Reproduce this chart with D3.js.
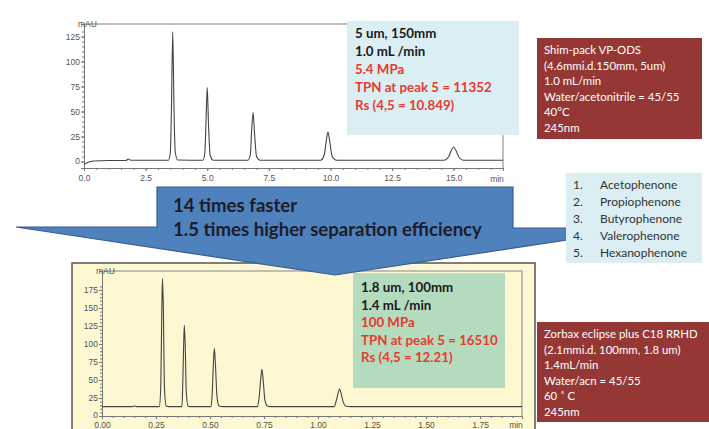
<!DOCTYPE html>
<html>
<head>
<meta charset="utf-8">
<script src="https://cdn.jsdelivr.net/npm/d3@7"></script>
<style>
  body { margin:0; background:#fff; }
  svg { display:block; font-family: Lato, "Open Sans", sans-serif; }
  .tick text { font-family: "Liberation Sans", Arial, sans-serif; font-size:8.5px; fill:#555; }
</style>
</head>
<body>
<svg id="canvas" width="709" height="429"></svg>
<script>
// chromatogram traces: [time (min), signal (mAU)]
var topTrace = [
  [0,-3],[0.15,-1],[0.4,0.5],[1.0,1],[1.7,1],[1.8,2.5],[1.9,1.2],
  [3.42,1.2],[3.5,8],[3.55,55],[3.6,130],[3.65,55],[3.7,10],[3.8,1.5],
  [4.82,1.2],[4.9,8],[4.95,40],[5.0,74],[5.05,38],[5.12,6],[5.25,1.2],
  [6.65,1.2],[6.75,7],[6.8,30],[6.86,49],[6.92,28],[7.0,5],[7.15,1.2],
  [9.6,1.2],[9.75,7],[9.83,21],[9.9,29.5],[9.97,20],[10.07,5],[10.25,1.2],
  [14.6,1.2],[14.8,5],[14.9,11],[15.0,14.5],[15.1,10.5],[15.22,4],[15.4,1.2],[17.0,1.2]
];
var bottomTrace = [
  [0,13],[0.14,13],[0.15,13.8],[0.16,13],
  [0.265,13],[0.272,40],[0.277,150],[0.28,191],[0.284,150],[0.289,40],[0.297,14],[0.31,13],
  [0.37,13],[0.373,35],[0.378,100],[0.381,126],[0.385,100],[0.39,35],[0.398,14],[0.41,13],
  [0.505,13],[0.51,30],[0.516,75],[0.52,94],[0.525,72],[0.532,28],[0.542,14],[0.56,13],
  [0.72,13],[0.727,25],[0.735,52],[0.74,65],[0.746,50],[0.754,22],[0.766,14],[0.78,13],
  [1.075,13],[1.085,22],[1.093,32],[1.1,37.5],[1.107,31],[1.116,20],[1.13,13.5],[1.15,13],[1.944,13]
];

var topXTicks = [0,2.5,5,7.5,10,12.5,15];
var topYTicks = [0,25,50,75,100,125];
var botXTicks = [0,0.25,0.5,0.75,1.0,1.25,1.5,1.75];
var botYTicks = [0,25,50,75,100,125,150,175];

var topInfo = [["5 um, 150mm","#1a1a1a"],["1.0 mL /min","#1a1a1a"],["5.4 MPa","#e63b2e"],
               ["TPN at peak 5 = 11352","#e63b2e"],["Rs (4,5 = 10.849)","#e63b2e"]];
var botInfo = [["1.8 um, 100mm","#1a1a1a"],["1.4 mL /min","#1a1a1a"],["100 MPa","#e63b2e"],
               ["TPN at peak 5 = 16510","#e63b2e"],["Rs (4,5 = 12.21)","#e63b2e"]];
var topColumn = ["Shim-pack VP-ODS","(4.6mmi.d.150mm, 5um)","1.0 mL/min",
                 "Water/acetonitrile = 45/55","40°C","245nm"];
var botColumn = ["Zorbax eclipse plus C18 RRHD","(2.1mmi.d. 100mm, 1.8 um)","1.4mL/min",
                 "Water/acn = 45/55","60 ˚ C","245nm"];
var compounds = ["Acetophenone","Propiophenone","Butyrophenone","Valerophenone","Hexanophenone"];
var arrowText = ["14 times faster","1.5 times higher separation efficiency"];

var svg = d3.select("#canvas");

function drawChart(g, x, y, trace, xt, yt, xFmt, xMinor, yMinor, yBase, pad){
  var x0 = x.range()[0], x1 = x.range()[1];
  var yTop = y.range()[1], yBot = yBase;
  // frame
  g.append("path")
    .attr("d","M"+x0+","+yTop+"H"+x1+"V"+yBot)
    .attr("fill","none").attr("stroke","#aaa").attr("stroke-width",1.5);
  // minor ticks
  g.append("g").attr("transform","translate(0,"+yBot+")")
    .call(d3.axisBottom(x).tickValues(d3.range(0, x.domain()[1]+1e-9, xMinor)).tickSize(2).tickFormat(""))
    .call(function(a){ a.select(".domain").remove(); a.selectAll("line").attr("stroke","#777"); });
  g.append("g").attr("transform","translate("+x0+",0)")
    .call(d3.axisLeft(y).tickValues(d3.range(yt[0], yt[yt.length-1]+10, yMinor)).tickSize(2).tickFormat(""))
    .call(function(a){ a.select(".domain").remove(); a.selectAll("line").attr("stroke","#777"); });
  // major axes
  g.append("g").attr("transform","translate(0,"+yBot+")")
    .call(d3.axisBottom(x).tickValues(xt).tickSize(3).tickPadding(pad).tickFormat(d3.format(xFmt)))
    .call(function(a){ a.select(".domain").attr("stroke","#777"); a.selectAll("line").attr("stroke","#777"); });
  g.append("g").attr("transform","translate("+x0+",0)")
    .call(d3.axisLeft(y).tickValues(yt).tickSize(3).tickPadding(1).tickFormat(d3.format("d")))
    .call(function(a){
      a.select(".domain").attr("stroke","#777"); a.selectAll("line").attr("stroke","#777");
      a.selectAll(".tick text").filter(function(d){ return d === 0; }).attr("dy","0.2em");
    });
  g.append("text").attr("x",x0-6).attr("y",yTop+3).text("mAU")
    .attr("font-family","Liberation Sans, Arial").attr("font-size",8.5).attr("fill","#555");
  g.append("text").attr("x",x1-6).attr("y",yBot+pad+9.5).text("min").attr("text-anchor","middle")
    .attr("font-family","Liberation Sans, Arial").attr("font-size",8.5).attr("fill","#555");
  // trace
  g.append("path").datum(trace)
    .attr("d", d3.line().x(function(d){return x(d[0]);}).y(function(d){return y(d[1]);}).curve(d3.curveMonotoneX))
    .attr("fill","none").attr("stroke","#444").attr("stroke-width",1.1);
}

function textBox(x0, y0, w, h, fill, lines, tx, ty, dy, size, weight, color){
  var g = svg.append("g");
  g.append("rect").attr("x",x0).attr("y",y0).attr("width",w).attr("height",h).attr("fill",fill);
  g.selectAll("text").data(lines).enter().append("text")
    .attr("x",tx).attr("y",function(d,i){return ty+i*dy;})
    .attr("font-size",size).attr("font-weight",weight)
    .attr("fill",function(d){ return color || d[1]; })
    .text(function(d){ return typeof d === "string" ? d : d[0]; });
  return g;
}

// ---- top chart
var xTop = d3.scaleLinear().domain([0,17]).range([84,503]);
var yTop = d3.scaleLinear().domain([-6.5,137.5]).range([168,24]);
drawChart(svg.append("g"), xTop, yTop, topTrace, topXTicks, topYTicks, ".1f", 0.5, 5, 168, 4);

textBox(347,21,172,114,"#dbeef4",topInfo,355,38,18,13.3,"bold");
textBox(537,38,165,101,"#953735",topColumn,544,54,15.6,11.4,"normal","#fff");

// ---- bottom panel
svg.append("rect").attr("x",72).attr("y",263).attr("width",463).attr("height",175)
  .attr("fill","#fdf8d2").attr("stroke","#555").attr("stroke-width",1.5);
var xBot = d3.scaleLinear().domain([0,1.944]).range([102,522]);
var yBot = d3.scaleLinear().domain([0,201.4]).range([416,271]);
drawChart(svg.append("g"), xBot, yBot, bottomTrace, botXTicks, botYTicks, ".2f", 0.05, 5, 416, 2.5);

textBox(353,273,152,115,"#b5dbbe",botInfo,361,292,17.5,13.3,"bold");
textBox(537,322,175,100,"#953735",botColumn,544,338,15.5,11.4,"normal","#fff");

// ---- arrow
svg.append("path")
  .attr("d","M157,187H513V228H600V235L335,275L16,227H157Z")
  .attr("fill","#4f81bd").attr("stroke","#385d8a").attr("stroke-width",1.2);
svg.selectAll("text.arrow").data(arrowText).enter().append("text").attr("class","arrow")
  .attr("x",173).attr("y",function(d,i){return 212+i*24;})
  .attr("font-size",18.6).attr("font-weight","bold").attr("fill","#1c1c28")
  .text(function(d){return d;});

// ---- compound legend
var leg = svg.append("g");
leg.append("rect").attr("x",566).attr("y",173).attr("width",136).attr("height",90).attr("fill","#dbeef4");
leg.selectAll("text.num").data(compounds).enter().append("text").attr("class","num")
  .attr("x",573).attr("y",function(d,i){return 189+i*17;})
  .attr("font-size",12).attr("fill","#333").text(function(d,i){return (i+1)+".";});
leg.selectAll("text.name").data(compounds).enter().append("text").attr("class","name")
  .attr("x",600).attr("y",function(d,i){return 189+i*17;})
  .attr("font-size",12).attr("fill","#333").text(function(d){return d;});
</script>
</body>
</html>
